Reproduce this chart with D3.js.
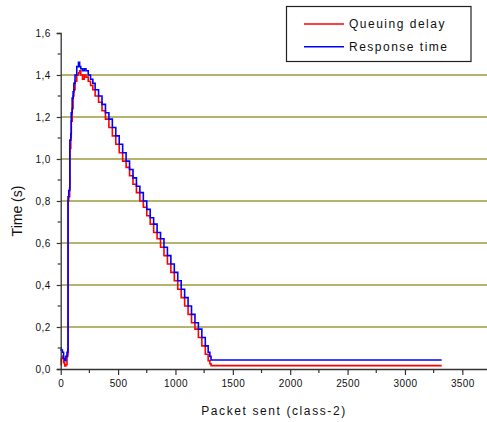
<!DOCTYPE html>
<html>
<head>
<meta charset="utf-8">
<script src="https://cdn.jsdelivr.net/npm/d3@7"></script>
<style>
  html, body { margin: 0; padding: 0; background: #fff; }
  svg { display: block; }
  text { font-family: "Liberation Sans", Arial, sans-serif; fill: #111; }
</style>
</head>
<body>
<svg id="chart" width="487" height="422"></svg>
<script>
// ---- data ----
const packets = [0, 5, 15, 25, 35, 45, 55, 62, 64, 70, 78, 80, 88, 92, 100, 108, 115, 125, 140, 155, 165, 175, 190, 205, 220, 240, 260, 280, 300, 330, 360, 390, 420, 450, 480, 510, 540, 570, 600, 630, 660, 690, 720, 750, 780, 810, 840, 870, 900, 930, 960, 990, 1020, 1050, 1080, 1110, 1140, 1170, 1200, 1230, 1260, 1285, 1300, 1310, 3320];
const queuingDelay = [0.02, 0.05, 0.06, 0.03, 0.015, 0.02, 0.06, 0.07, 0.80, 0.82, 0.85, 1.05, 1.10, 1.18, 1.24, 1.30, 1.33, 1.37, 1.40, 1.41, 1.42, 1.40, 1.38, 1.40, 1.39, 1.37, 1.35, 1.33, 1.30, 1.27, 1.23, 1.19, 1.15, 1.11, 1.07, 1.03, 0.99, 0.96, 0.92, 0.88, 0.84, 0.80, 0.77, 0.73, 0.69, 0.65, 0.62, 0.58, 0.54, 0.50, 0.46, 0.42, 0.38, 0.34, 0.30, 0.26, 0.22, 0.19, 0.15, 0.11, 0.07, 0.04, 0.025, 0.016, 0.016];
const responseTime = [0.10, 0.09, 0.08, 0.05, 0.04, 0.06, 0.08, 0.09, 0.82, 0.85, 0.86, 1.09, 1.12, 1.22, 1.29, 1.32, 1.36, 1.40, 1.44, 1.46, 1.44, 1.43, 1.42, 1.43, 1.42, 1.40, 1.38, 1.36, 1.33, 1.30, 1.26, 1.22, 1.19, 1.15, 1.11, 1.07, 1.03, 0.99, 0.95, 0.91, 0.87, 0.84, 0.80, 0.76, 0.72, 0.69, 0.65, 0.62, 0.58, 0.54, 0.50, 0.46, 0.42, 0.38, 0.34, 0.30, 0.26, 0.22, 0.19, 0.15, 0.11, 0.08, 0.06, 0.043, 0.043];
const xMajorTicks = [0, 500, 1000, 1500, 2000, 2500, 3000, 3500];
const xMinorTicks = [250, 750, 1250, 1750, 2250, 2750, 3250];
const yMajorTicks = [0, 0.2, 0.4, 0.6, 0.8, 1.0, 1.2, 1.4, 1.6];
const yMinorTicks = [0.1, 0.3, 0.5, 0.7, 0.9, 1.1, 1.3, 1.5];
const gridValues = [0.2, 0.4, 0.6, 0.8, 1.0, 1.2, 1.4];
const seriesNames = ["Queuing delay", "Response time"];
const seriesColors = ["#ff0000", "#0000ff"];

// ---- chart ----
const svg = d3.select("#chart");
const x = d3.scaleLinear().domain([0, 3715]).range([60.7, 487]);
const y = d3.scaleLinear().domain([0, 1.6]).range([369, 33]);
const fmt = v => d3.format(".1f")(v).replace(".", ",");

// grid lines
svg.append("g").selectAll("line").data(gridValues).join("line")
  .attr("x1", x(0)).attr("x2", 487)
  .attr("y1", d => y(d)).attr("y2", d => y(d))
  .attr("stroke", "#9e9a3c").attr("stroke-width", 1.6);

// lines
const lineData = [queuingDelay, responseTime].map(vals => packets.map((p, i) => [p, vals[i]]));
const line = d3.line().x(d => x(d[0])).y(d => y(d[1])).curve(d3.curveStepAfter);
svg.append("g").selectAll("path").data(lineData).join("path")
  .attr("d", line)
  .attr("fill", "none")
  .attr("stroke", (d, i) => seriesColors[i])
  .attr("stroke-width", 1.6)
  .attr("stroke-linejoin", "miter");

// y axis
const yAxis = svg.append("g").attr("transform", `translate(${x(0)},0)`)
  .call(d3.axisLeft(y).tickValues(yMajorTicks).tickFormat(fmt).tickSize(4).tickPadding(6));
yAxis.select(".domain").attr("stroke", "#333").attr("stroke-width", 1.3);
yAxis.selectAll(".tick line").attr("stroke", "#333").attr("stroke-width", 1.2);
yAxis.selectAll("text").attr("font-size", 10).attr("letter-spacing", 0.4)
  .attr("font-family", "Liberation Sans, Arial, sans-serif").attr("fill", "#111");
svg.append("g").selectAll("line").data(yMinorTicks).join("line")
  .attr("x1", x(0) - 3).attr("x2", x(0))
  .attr("y1", d => y(d)).attr("y2", d => y(d))
  .attr("stroke", "#333").attr("stroke-width", 1.2);

// x axis
const xAxis = svg.append("g").attr("transform", `translate(0,${y(0)})`)
  .call(d3.axisBottom(x).tickValues(xMajorTicks).tickFormat(d3.format("d")).tickSize(6).tickPadding(5).tickSizeOuter(0));
xAxis.select(".domain").attr("stroke", "#333").attr("stroke-width", 1.3);
xAxis.selectAll(".tick line").attr("stroke", "#333").attr("stroke-width", 1.2);
xAxis.selectAll("text").attr("font-size", 10).attr("letter-spacing", 0.4)
  .attr("font-family", "Liberation Sans, Arial, sans-serif").attr("fill", "#111");
svg.append("g").selectAll("line").data(xMinorTicks).join("line")
  .attr("x1", d => x(d)).attr("x2", d => x(d))
  .attr("y1", y(0)).attr("y2", y(0) + 4)
  .attr("stroke", "#333").attr("stroke-width", 1.2);

// axis titles
svg.append("text").attr("x", 274).attr("y", 415).attr("text-anchor", "middle")
  .attr("font-size", 12).attr("letter-spacing", 1.6).text("Packet sent (class-2)");
svg.append("text").attr("transform", "translate(22,211) rotate(-90)").attr("text-anchor", "middle")
  .attr("font-size", 14).text("Time (s)");

// legend
const lg = svg.append("g");
lg.append("rect").attr("x", 286.5).attr("y", 6.5).attr("width", 184.5).attr("height", 55)
  .attr("fill", "#fff").attr("stroke", "#222").attr("stroke-width", 1.2);
seriesNames.forEach((name, i) => {
  const yy = 24 + i * 22.7;
  lg.append("line").attr("x1", 304).attr("x2", 344).attr("y1", yy).attr("y2", yy)
    .attr("stroke", seriesColors[i]).attr("stroke-width", 1.6);
  lg.append("text").attr("x", 349).attr("y", yy + 4.3).attr("font-size", 12)
    .attr("letter-spacing", 1.5).text(name);
});
</script>
</body>
</html>
